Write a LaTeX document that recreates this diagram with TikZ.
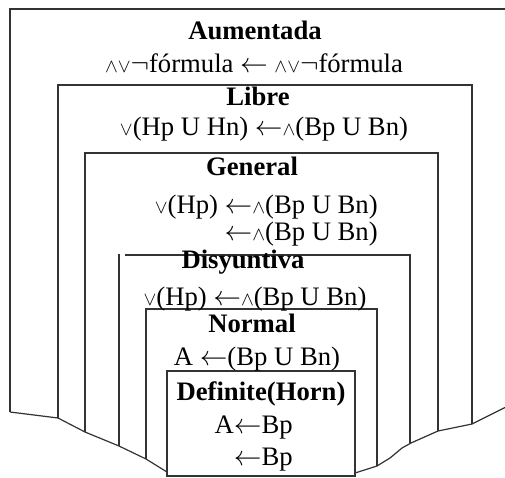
\documentclass[tikz,border=0pt]{standalone}
\usepackage{fontspec}
\setmainfont{Liberation Serif}
\usepackage{tikz}
\usetikzlibrary{positioning}

\newcommand{\conj}{{\fontsize{15}{15}\selectfont\ensuremath{\wedge}}}
\newcommand{\disj}{{\fontsize{15}{15}\selectfont\ensuremath{\vee}}}
\newcommand{\larr}{\ensuremath{\leftarrow}}

\begin{document}
\begin{tikzpicture}[
        x=0.75pt, y=-0.75pt,
        frame/.style={draw=black!80, line width=0.9pt},
        title/.style={font=\bfseries\fontsize{20}{24}\selectfont, anchor=base, inner sep=0pt},
        rule/.style={font=\fontsize{20}{24}\selectfont, anchor=base, inner sep=0pt}
    ]
    \useasboundingbox (0,0) rectangle (505,477);
    \clip (0,0) rectangle (505,477);

    % Frames, outer to inner
    \draw [frame] (10,412) -- (10,9) -- (510,9);
    \draw [frame] (58,418) -- (58,85) -- (472,85) -- (472,424);
    \draw [frame] (85,432) -- (85,153) -- (438,153) -- (438,431);
    \draw [frame] (119,446) -- (119,254);
    \draw [frame] (125,255) -- (410,255) -- (410,443);
    \draw [frame] (146,459) -- (146,309) -- (377,309) -- (377,466);
    \draw [frame] (167,371) rectangle (355,476);

    % Floor
    \draw [frame] (10,412) -- (58,418) -- (85,432) -- (119,446) -- (146,459) -- (167,472);
    \draw [frame] (355,473) -- (377,466) -- (390,458) -- (402,448) -- (411,443)
        -- (438,431) -- (472,424) -- (510,405);

    % Aumentada
    \node [title] (aum) at (255,40) {Aumentada};
    \node [rule] (aumrule) at (254,73) {\conj\disj\(\neg\)fórmula \larr{} \conj\disj\(\neg\)fórmula};

    % Libre
    \node [title] (libre) at (258,106) {Libre};
    \node [rule] (librerule) at (264,136) {\disj(Hp U Hn) \larr\conj(Bp U Bn)};

    % General
    \node [title] (general) at (252,175) {General};
    \node [rule, anchor=base east] (generalrule) at (378,213) {\disj(Hp) \larr\conj(Bp U Bn)};
    \node [rule, anchor=base east] (generalgoal) at (378,240) {\larr\conj(Bp U Bn)};

    % Disyuntiva
    \node [title] (disy) at (243,268) {Disyuntiva};
    \node [rule] (disyrule) at (255,305) {\disj(Hp) \larr\conj(Bp U Bn)};

    % Normal
    \node [title] (normal) at (252,332) {Normal};
    \node [rule] (normalrule) at (257,365) {A \larr(Bp U Bn)};

    % Definite (Horn)
    \node [title] (horn) at (261,400) {Definite(Horn)};
    \node [rule, anchor=base east] (hornrule) at (293,433) {A\larr Bp};
    \node [rule, anchor=base east] (horngoal) at (293,465) {\larr Bp};

\end{tikzpicture}
\end{document}
